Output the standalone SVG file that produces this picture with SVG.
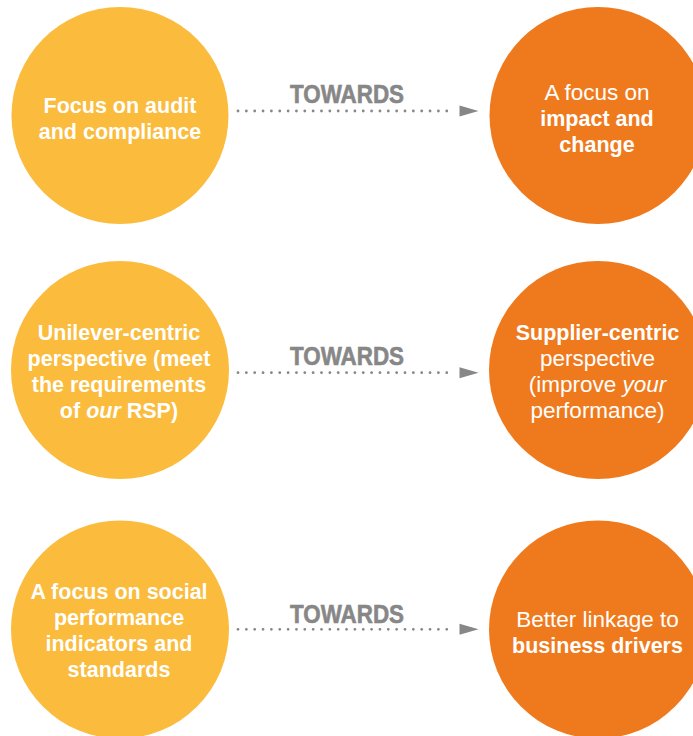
<svg xmlns="http://www.w3.org/2000/svg" width="693" height="736" viewBox="0 0 693 736">
<style>
.y{fill:#FBBB3C}
.o{fill:#EF7A1D}
text{font-family:"Liberation Sans",Arial,sans-serif;fill:#fff;text-anchor:middle;font-size:21.5px}
.b{font-weight:bold}
.n{font-weight:normal;font-size:22.5px}
.i{font-style:italic}
.lbl{fill:#878787;font-weight:bold;font-size:25px;stroke:#878787;stroke-width:0.6}
.dots{stroke:#878787;stroke-width:2.8;stroke-linecap:round;stroke-dasharray:0 8.35;fill:none}
.head{fill:#878787}
</style>
<rect width="693" height="736" fill="#fff"/>
<g id="left1"><circle class="y" cx="120" cy="115.5" r="108.5"/>
<text class="b" x="120" y="113">Focus on audit</text>
<text class="b" x="120" y="139">and compliance</text></g>
<g id="right1"><circle class="o" cx="598" cy="115.5" r="108.5"/>
<text class="n" x="597" y="100">A focus on</text>
<text class="b" x="597" y="126">impact and</text>
<text class="b" x="597" y="152">change</text></g>
<g id="left2"><circle class="y" cx="120" cy="370" r="109"/>
<text class="b" x="119" y="340">Unilever-centric</text>
<text class="b" x="119" y="366">perspective (meet</text>
<text class="b" x="119" y="392">the requirements</text>
<text class="b" x="119" y="418">of <tspan class="i">our</tspan> RSP)</text></g>
<g id="right2"><circle class="o" cx="598" cy="370" r="109"/>
<text class="b" x="597.5" y="340">Supplier-centric</text>
<text class="n" x="597.5" y="366">perspective</text>
<text class="n" x="597.5" y="392">(improve <tspan class="i">your</tspan></text>
<text class="n" x="597.5" y="418">performance)</text></g>
<g id="left3"><circle class="y" cx="120" cy="629.5" r="109"/>
<text class="b" x="119" y="599">A focus on social</text>
<text class="b" x="119" y="625">performance</text>
<text class="b" x="119" y="651">indicators and</text>
<text class="b" x="119" y="677">standards</text></g>
<g id="right3"><circle class="o" cx="598" cy="629.5" r="109"/>
<text class="n" x="597.5" y="627">Better linkage to</text>
<text class="b" x="597.5" y="653">business drivers</text></g>
<g id="connectors">
<line class="dots" x1="238" y1="111" x2="455" y2="111"/>
<polygon class="head" points="459.5,105.5 478.5,111 459.5,116.5"/>
<text class="lbl" x="347" y="103" textLength="114" lengthAdjust="spacingAndGlyphs">TOWARDS</text>
<line class="dots" x1="238" y1="372.7" x2="455" y2="372.7"/>
<polygon class="head" points="459.5,367.2 478.5,372.7 459.5,378.2"/>
<text class="lbl" x="347" y="364.5" textLength="114" lengthAdjust="spacingAndGlyphs">TOWARDS</text>
<line class="dots" x1="238" y1="629.3" x2="455" y2="629.3"/>
<polygon class="head" points="459.5,623.8 478.5,629.3 459.5,634.8"/>
<text class="lbl" x="347" y="622.5" textLength="114" lengthAdjust="spacingAndGlyphs">TOWARDS</text>
</g>
</svg>
